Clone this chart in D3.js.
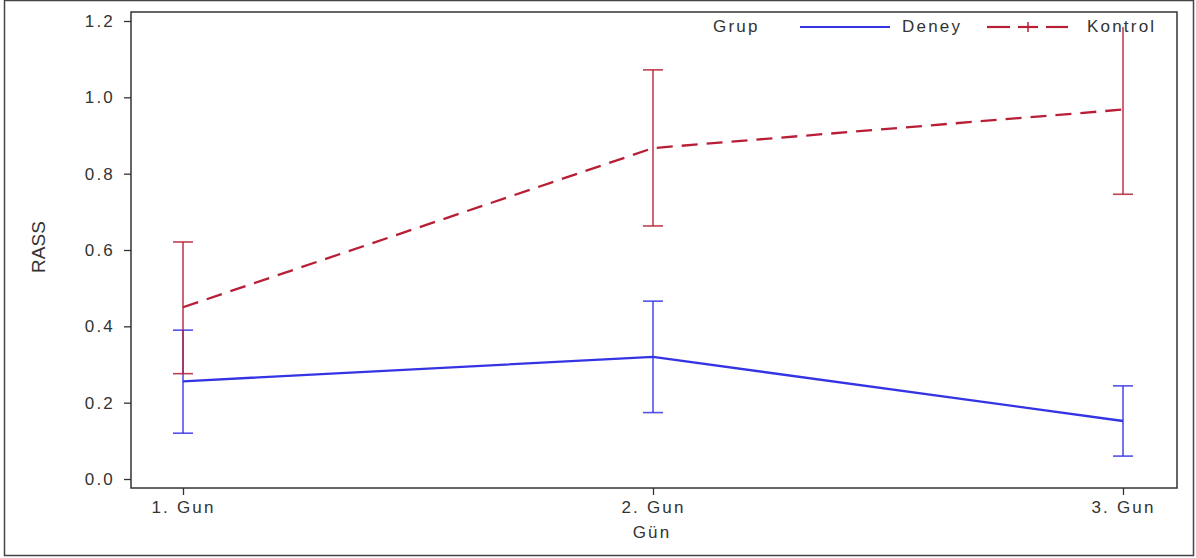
<!DOCTYPE html>
<html>
<head>
<meta charset="utf-8">
<script src="https://cdn.jsdelivr.net/npm/d3@7"></script>
<style>
  body { margin: 0; background: #fff; }
  text { font-family: "Liberation Sans", Arial, sans-serif; fill: #333; }
</style>
</head>
<body>
<script>
// data
var days = ['1. Gun', '2. Gun', '3. Gun'];
var yTicks = [0.0, 0.2, 0.4, 0.6, 0.8, 1.0, 1.2];
var deneyMean = [0.256, 0.320, 0.152];
var deneyLow = [0.120, 0.174, 0.060];
var deneyHigh = [0.390, 0.466, 0.244];
var kontrolMean = [0.450, 0.867, 0.968];
var kontrolLow = [0.276, 0.663, 0.746];
var kontrolHigh = [0.621, 1.072, 1.190];

var width = 1196, height = 558;
var plot = {left: 131, right: 1177, top: 12, bottom: 488};
var fs = 17, ls = '2.2px';

var svg = d3.select('body').append('svg').attr('width', width).attr('height', height);

// outer frame
svg.append('rect').attr('x', 4.5).attr('y', 0.5).attr('width', 1189).attr('height', 555)
  .attr('fill', 'none').attr('stroke', '#444').attr('stroke-width', 1.5);

var x = d3.scalePoint().domain(days).range([183, 1123]);
var y = d3.scaleLinear().domain([0, 1.2]).range([479, 21]);

// plot frame
svg.append('rect').attr('x', plot.left).attr('y', plot.top)
  .attr('width', plot.right - plot.left).attr('height', plot.bottom - plot.top)
  .attr('fill', 'none').attr('stroke', '#333').attr('stroke-width', 1.5);

var yAxis = svg.append('g').attr('transform', 'translate(' + plot.left + ',0)')
  .call(d3.axisLeft(y).tickValues(yTicks).tickFormat(d3.format('.1f')).tickSize(7).tickPadding(9));
var xAxis = svg.append('g').attr('transform', 'translate(0,' + plot.bottom + ')')
  .call(d3.axisBottom(x).tickSize(7).tickPadding(6));
[yAxis, xAxis].forEach(function(a) {
  a.attr('font-size', null).attr('font-family', null);
  a.select('.domain').remove();
  a.selectAll('line').attr('stroke', '#333').attr('stroke-width', 1.3);
  a.selectAll('text').style('font-size', fs + 'px').attr('fill', '#333')
    .style('letter-spacing', ls);
});

svg.append('text').attr('x', 652).attr('y', 538).attr('text-anchor', 'middle')
  .style('font-size', fs + 'px').style('letter-spacing', ls).text('Gün');
svg.append('text').attr('transform', 'translate(45,247) rotate(-90)').attr('text-anchor', 'middle')
  .style('font-size', '19px').style('font-family', '"Liberation Sans Narrow", "Liberation Sans", sans-serif')
  .text('RASS');

// marks are clipped just under the legend row
svg.append('clipPath').attr('id', 'clip').append('rect')
  .attr('x', plot.left).attr('y', 27).attr('width', plot.right - plot.left).attr('height', plot.bottom - 27);

var series = [
  {mean: deneyMean, low: deneyLow, high: deneyHigh, color: '#3434e4', dash: null},
  {mean: kontrolMean, low: kontrolLow, high: kontrolHigh, color: '#b81e36', dash: '16,9'}
];

// legend
var leg = svg.append('g');
leg.append('text').attr('x', 713).attr('y', 32).style('font-size', fs + 'px').style('letter-spacing', ls).text('Grup');
leg.append('line').attr('x1', 800).attr('x2', 890).attr('y1', 27).attr('y2', 27)
  .attr('stroke', series[0].color).attr('stroke-width', 2);
leg.append('text').attr('x', 902).attr('y', 32).style('font-size', fs + 'px').style('letter-spacing', ls).text('Deney');
[[987, 1010], [1018, 1038], [1046, 1068]].forEach(function(seg) {
  leg.append('line').attr('x1', seg[0]).attr('x2', seg[1]).attr('y1', 27).attr('y2', 27)
    .attr('stroke', series[1].color).attr('stroke-width', 2.2);
});
leg.append('line').attr('x1', 1028).attr('x2', 1028).attr('y1', 22).attr('y2', 32)
  .attr('stroke', series[1].color).attr('stroke-width', 1.5);
leg.append('text').attr('x', 1087).attr('y', 32).style('font-size', fs + 'px').style('letter-spacing', ls).text('Kontrol');

var marks = svg.append('g').attr('clip-path', 'url(#clip)');
var line = d3.line().x(function(d, i) { return x(days[i]); }).y(function(d) { return y(d); });
var cap = 10;

series.forEach(function(s) {
  var g = marks.append('g');
  days.forEach(function(day, i) {
    var cx = x(day);
    g.append('line').attr('x1', cx).attr('x2', cx).attr('y1', y(s.low[i])).attr('y2', y(s.high[i]))
      .attr('stroke', s.color).attr('stroke-width', 1.6).attr('opacity', 0.85);
    [s.low[i], s.high[i]].forEach(function(v) {
      g.append('line').attr('x1', cx - cap).attr('x2', cx + cap).attr('y1', y(v)).attr('y2', y(v))
        .attr('stroke', s.color).attr('stroke-width', 1.6).attr('opacity', 0.85);
    });
  });
  g.append('path').datum(s.mean).attr('d', line).attr('fill', 'none')
    .attr('stroke', s.color).attr('stroke-width', 2.3).attr('stroke-dasharray', s.dash);
});
</script>
</body>
</html>
